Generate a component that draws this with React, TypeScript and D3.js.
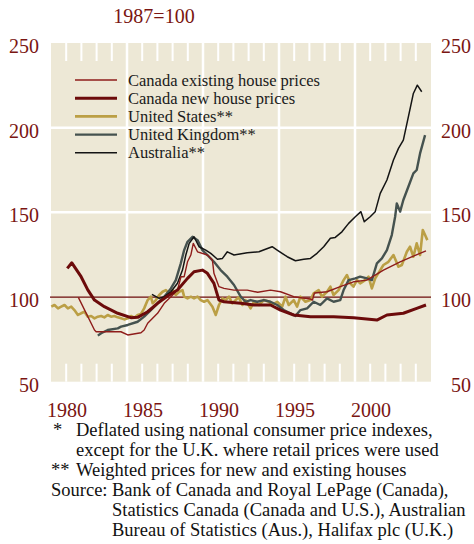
import React from 'react';
import * as d3 from 'd3';

// real house prices, 1987=100 (year, index)
const canadaExisting: [number, number][] = [
  [1981.8, 99.8], [1982.86, 80.5], [1982.97, 79.5], [1984.6, 79.5], [1985.05, 77.6],
  [1985.92, 78.9], [1986.13, 80.5], [1986.36, 84.5], [1986.57, 86.4], [1987.01, 90.4],
  [1987.45, 96.3], [1987.89, 100.2], [1988.32, 104.1], [1988.55, 112.0], [1988.76, 112.0],
  [1988.98, 120.8], [1989.2, 124.8], [1989.36, 131.7], [1989.64, 126.7], [1990.29, 124.8],
  [1990.62, 121.8], [1990.72, 114.0], [1991.05, 106.1], [1991.38, 105.1], [1992.04, 104.1],
  [1992.91, 104.1], [1993.6, 102.8], [1994.44, 104.1], [1995.1, 103.1], [1995.97, 100.2],
  [1997.07, 98.8], [1997.2, 98.2], [1997.33, 102.4], [1998.16, 103.1], [1999.03, 106.1],
  [1999.9, 109.0], [2000.78, 110.0], [2001.87, 115.9], [2002.97, 120.8], [2003.84, 124.2],
  [2004.67, 127.2],
];

const canadaNew: [number, number][] = [
  [1981.07, 116.9], [1981.37, 120.2], [1981.98, 112.0], [1982.42, 104.2], [1982.86, 98.2],
  [1983.51, 94.3], [1984.39, 90.4], [1985.26, 87.8], [1985.7, 88.0], [1986.36, 91.3],
  [1987.01, 96.3], [1987.67, 100.6], [1988.32, 104.1], [1988.98, 111.0], [1989.41, 114.9],
  [1989.96, 115.9], [1990.29, 114.0], [1990.72, 108.1], [1991.05, 98.2], [1991.38, 97.2],
  [1992.48, 96.3], [1993.35, 95.3], [1994.44, 95.3], [1995.1, 92.3], [1995.97, 89.4],
  [1997.07, 88.4], [1998.59, 88.4], [1999.91, 87.8], [2001.44, 86.4], [2002.1, 89.4],
  [2003.18, 90.4], [2004.06, 93.3], [2004.67, 95.3],
];

const unitedStates: [number, number][] = [
  [1980.02, 94.3], [1980.23, 95.3], [1980.46, 93.3], [1980.67, 94.3], [1980.89, 95.3],
  [1981.11, 93.3], [1981.33, 94.3], [1981.54, 92.3], [1981.77, 89.4], [1981.98, 90.4],
  [1982.2, 91.3], [1982.42, 88.4], [1982.64, 88.8], [1982.86, 87.4], [1983.08, 88.4],
  [1983.3, 88.8], [1983.51, 88.0], [1983.73, 89.4], [1983.95, 88.4], [1984.17, 88.8],
  [1984.39, 88.0], [1984.61, 87.4], [1984.82, 86.8], [1985.05, 87.4], [1985.26, 88.8],
  [1985.48, 87.8], [1985.7, 89.4], [1985.92, 90.0], [1986.13, 93.3], [1986.36, 98.2],
  [1986.57, 100.2], [1986.69, 96.3], [1986.9, 98.2], [1987.12, 101.2], [1987.34, 103.1],
  [1987.56, 104.1], [1987.77, 102.2], [1988.0, 104.1], [1988.21, 101.2], [1988.43, 103.1],
  [1988.65, 104.1], [1988.76, 100.2], [1988.98, 99.2], [1989.2, 100.2], [1989.41, 99.2],
  [1989.64, 100.2], [1989.85, 98.2], [1990.07, 97.2], [1990.29, 98.2], [1990.62, 94.3],
  [1990.84, 89.4], [1991.05, 95.3], [1991.28, 99.2], [1991.49, 98.2], [1991.71, 100.2],
  [1991.93, 96.3], [1992.15, 98.2], [1992.36, 99.8], [1992.59, 95.3], [1992.8, 98.2],
  [1993.13, 93.3], [1993.35, 97.2], [1993.68, 95.3], [1994.0, 98.2], [1994.33, 97.2],
  [1994.55, 95.3], [1994.88, 97.2], [1995.21, 94.3], [1995.43, 100.2], [1995.64, 95.3],
  [1995.97, 98.2], [1996.19, 94.3], [1996.41, 100.2], [1996.74, 97.2], [1997.07, 98.2],
  [1997.28, 102.2], [1997.61, 104.1], [1997.83, 100.2], [1998.16, 103.1], [1998.38, 106.1],
  [1998.59, 101.2], [1998.92, 104.1], [1999.25, 110.0], [1999.47, 113.0], [1999.69, 108.1],
  [1999.9, 106.1], [2000.13, 110.0], [2000.34, 108.1], [2000.67, 110.0], [2000.89, 112.0],
  [2001.11, 105.1], [2001.33, 111.0], [2001.66, 115.9], [2001.87, 118.9], [2002.2, 120.8],
  [2002.53, 124.8], [2002.86, 117.9], [2003.08, 118.9], [2003.41, 126.7], [2003.62, 129.7],
  [2003.84, 123.8], [2004.06, 131.7], [2004.28, 124.8], [2004.46, 139.6], [2004.61, 136.6],
  [2004.76, 133.6],
];

const unitedKingdom: [number, number][] = [
  [1983.08, 77.2], [1983.3, 78.6], [1983.73, 80.5], [1984.39, 81.5], [1984.61, 82.5],
  [1985.05, 83.5], [1985.7, 85.4], [1986.13, 88.4], [1986.57, 92.3], [1987.01, 96.3],
  [1987.45, 100.2], [1987.89, 105.1], [1988.21, 110.0], [1988.54, 119.9], [1988.76, 127.7],
  [1988.98, 132.6], [1989.31, 135.6], [1989.64, 133.6], [1989.96, 127.7], [1990.29, 124.8],
  [1990.72, 120.8], [1991.16, 115.9], [1991.6, 112.0], [1992.04, 107.1], [1992.48, 100.2],
  [1992.8, 97.2], [1993.13, 98.2], [1993.57, 97.2], [1994.0, 98.2], [1994.44, 97.2],
  [1994.88, 95.3], [1995.31, 92.3], [1995.75, 90.4], [1996.08, 88.8], [1996.41, 92.3],
  [1996.85, 93.3], [1997.28, 97.2], [1997.72, 95.3], [1998.16, 99.2], [1998.59, 97.2],
  [1999.03, 98.2], [1999.25, 104.1], [1999.58, 110.0], [2000.02, 111.0], [2000.34, 112.0],
  [2000.78, 111.0], [2001.11, 110.0], [2001.44, 119.9], [2001.77, 122.8], [2002.1, 127.7],
  [2002.42, 136.6], [2002.64, 147.4], [2002.75, 155.3], [2002.97, 150.4], [2003.18, 157.3],
  [2003.51, 165.1], [2003.84, 173.0], [2004.06, 175.0], [2004.28, 184.8], [2004.61, 195.6],
];

const australia: [number, number][] = [
  [1986.64, 101.6], [1987.12, 99.2], [1987.45, 100.2], [1987.89, 103.1], [1988.32, 108.1],
  [1988.65, 115.9], [1988.87, 124.8], [1989.09, 131.7], [1989.41, 135.6], [1989.74, 129.7],
  [1990.18, 127.7], [1990.51, 125.8], [1990.95, 122.3], [1991.28, 122.8], [1991.6, 126.7],
  [1992.04, 124.8], [1992.91, 126.2], [1993.68, 126.7], [1994.11, 128.2], [1994.55, 129.7],
  [1994.88, 127.7], [1995.54, 123.8], [1996.08, 121.4], [1996.63, 122.3], [1997.07, 122.8],
  [1997.5, 125.8], [1997.94, 129.7], [1998.38, 134.7], [1998.7, 135.2], [1999.14, 138.5],
  [1999.58, 143.5], [2000.02, 147.4], [2000.39, 150.4], [2000.61, 144.5], [2001.0, 147.4],
  [2001.33, 150.4], [2001.66, 161.2], [2002.1, 169.1], [2002.53, 180.9], [2002.86, 187.8],
  [2003.18, 192.7], [2003.51, 206.4], [2003.84, 220.2], [2004.1, 225.1], [2004.39, 221.2],
];

const yearLabels = [1980, 1985, 1990, 1995, 2000];
const valueLabels = [50, 100, 150, 200, 250];
const gridValues = [150, 200];

const footnotes = [
  { x: 53, marker: '*', tx: 76, text: 'Deflated using national consumer price indexes,' },
  { x: 53, marker: '', tx: 76, text: 'except for the U.K. where retail prices were used' },
  { x: 51, marker: '**', tx: 76, text: 'Weighted prices for new and existing houses' },
  { x: 51, marker: 'Source:', tx: 112, text: 'Bank of Canada and Royal LePage (Canada),' },
  { x: 51, marker: '', tx: 112, text: 'Statistics Canada (Canada and U.S.), Australian' },
  { x: 51, marker: '', tx: 112, text: 'Bureau of Statistics (Aus.), Halifax plc (U.K.)' },
];

const RED = '#7a1512';
const SERIF = '"Liberation Serif", "Times New Roman", serif';

const App: React.FC = () => {
  const x = d3.scaleLinear().domain([1980, 2005]).range([51, 431]);
  const y = d3.scaleLinear().domain([50, 250]).range([381.7, 43]);
  const line = d3.line<[number, number]>()
    .x(d => x(d[0]))
    .y(d => y(d[1]));

  const series = [
    { label: 'Canada existing house prices', data: canadaExisting, color: '#8e1c1a', width: 1.4, order: 3 },
    { label: 'Canada new house prices', data: canadaNew, color: '#6c0b0b', width: 3, order: 4 },
    { label: 'United States**', data: unitedStates, color: '#bb9f45', width: 2.6, order: 0 },
    { label: 'United Kingdom**', data: unitedKingdom, color: '#45524f', width: 2.4, order: 1 },
    { label: 'Australia**', data: australia, color: '#141414', width: 1.5, order: 2 },
  ];
  const drawOrder = [...series].sort((a, b) => a.order - b.order);

  const [x0, x1] = x.range();
  const [yBot, yTop] = y.range();
  const minorYears = d3.range(1981, 2005).filter(v => v % 5 !== 0);

  return (
    <svg width={474} height={544} style={{ position: 'absolute', left: 0, top: 0, background: '#fff' }}
      fontFamily={SERIF}>
      <rect x={x0} y={yTop} width={x1 - x0} height={yBot - yTop} fill="#ede8d6" />

      {/* white grid */}
      {gridValues.map(v => (
        <line key={v} x1={x0} x2={x1} y1={y(v)} y2={y(v)} stroke="#fff" strokeWidth={2.5} />
      ))}
      {yearLabels.slice(1).map(v => (
        <line key={v} x1={x(v)} x2={x(v)} y1={yTop} y2={yBot} stroke="#fff" strokeWidth={2.5} />
      ))}
      {minorYears.map(v => (
        <g key={v}>
          <line x1={x(v)} x2={x(v)} y1={yTop} y2={yTop + 18} stroke="#fff" strokeWidth={2} />
          <line x1={x(v)} x2={x(v)} y1={yBot - 18} y2={yBot} stroke="#fff" strokeWidth={2} />
        </g>
      ))}

      <line x1={x0 - 1} x2={x1} y1={y(100)} y2={y(100)} stroke="#6c0b0b" strokeWidth={1.2} />

      {drawOrder.map(s => (
        <path key={s.label} d={line(s.data) || ''} fill="none" stroke={s.color}
          strokeWidth={s.width} strokeLinejoin="round" />
      ))}

      {/* legend */}
      {series.map((s, i) => {
        const ly = 80 + i * 18.2;
        return (
          <g key={s.label}>
            <line x1={75} x2={117} y1={ly} y2={ly} stroke={s.color} strokeWidth={s.width} />
            <text x={128} y={ly + 5.5} fontSize={16.5} fill="#1a1a1a">{s.label}</text>
          </g>
        );
      })}

      {/* axes labels */}
      <text x={154} y={23} fontSize={20} fill={RED} textAnchor="middle">1987=100</text>
      {valueLabels.map(v => (
        <g key={v}>
          <text x={39} y={y(v) + 10} fontSize={20} fill={RED} textAnchor="end">{v}</text>
          <text x={471} y={y(v) + 10} fontSize={20} fill={RED} textAnchor="end">{v}</text>
        </g>
      ))}
      {yearLabels.map(v => (
        <text key={v} x={x(v + 1.05)} y={417} fontSize={20} fill={RED} textAnchor="middle">{v}</text>
      ))}

      {/* notes */}
      {footnotes.map((f, i) => (
        <g key={i} fontSize={18.5} fill="#111">
          {f.marker && <text x={f.x} y={436 + i * 20}>{f.marker}</text>}
          <text x={f.tx} y={436 + i * 20}>{f.text}</text>
        </g>
      ))}
    </svg>
  );
};

export default App;
